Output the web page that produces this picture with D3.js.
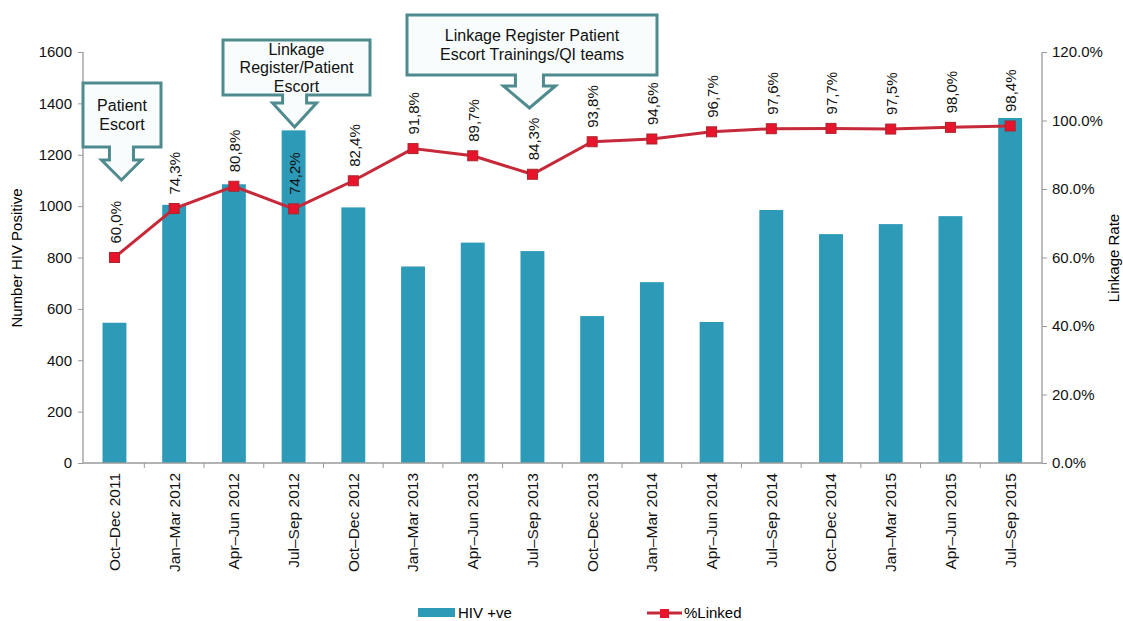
<!DOCTYPE html>
<html>
<head>
<meta charset="utf-8">
<script src="https://cdn.jsdelivr.net/npm/d3@7"></script>
<style>
  html, body { margin: 0; padding: 0; background: #fff; }
  svg { display: block; font-family: "Liberation Sans", Arial, Helvetica, sans-serif; }
</style>
</head>
<body>
<svg id="chart" width="1123" height="621"></svg>
<script>
// Quarterly HIV positives and share linked to care
const quarters = [
  "Oct–Dec 2011", "Jan–Mar 2012", "Apr–Jun 2012", "Jul–Sep 2012",
  "Oct–Dec 2012", "Jan–Mar 2013", "Apr–Jun 2013", "Jul–Sep 2013",
  "Oct–Dec 2013", "Jan–Mar 2014", "Apr–Jun 2014", "Jul–Sep 2014",
  "Oct–Dec 2014", "Jan–Mar 2015", "Apr–Jun 2015", "Jul–Sep 2015"
];
const hivPositive = [546, 1005, 1085, 1295, 995, 765, 858, 825, 572, 704, 549, 985, 891, 930, 961, 1343];
const linkedPct = [60.0, 74.3, 80.8, 74.2, 82.4, 91.8, 89.7, 84.3, 93.8, 94.6, 96.7, 97.6, 97.7, 97.5, 98.0, 98.4];
const leftTicks = [0, 200, 400, 600, 800, 1000, 1200, 1400, 1600];
const rightTicks = [0, 20, 40, 60, 80, 100, 120];

// Intervention callouts: text lines and the quarter the arrow points at
const callouts = [
  { lines: ["Patient", "Escort"], quarter: 0, dx: 7, box: [83, 83, 161, 147], shaft: 12, headW: 20, shaftEnd: 160, tip: 180 },
  { lines: ["Linkage", "Register/Patient", "Escort"], quarter: 3, dx: 1, box: [223, 40, 370, 95], shaft: 12, headW: 22, shaftEnd: 103, tip: 127 },
  { lines: ["Linkage Register Patient", "Escort Trainings/QI teams"], quarter: 7, dx: -3, box: [407, 15, 657, 75], shaft: 14, headW: 26, shaftEnd: 86, tip: 108 }
];

const svg = d3.select("#chart");
const AX = "#9a9a9a";
const BAR = "#2d9ab8";
const LINE = "#c62a3a";
const MARK = "#e8142c";

const x = d3.scaleBand().domain(quarters).range([84.6, 1040]).paddingInner(0.6).paddingOuter(0.3);
const xc = q => x(q) + x.bandwidth() / 2;
const yL = d3.scaleLinear().domain([0, 1600]).range([463, 52]);
const yR = d3.scaleLinear().domain([0, 120]).range([463, 52]);

// Bars
svg.append("g").selectAll("rect").data(quarters).join("rect")
  .attr("x", q => x(q))
  .attr("y", (q, i) => yL(hivPositive[i]))
  .attr("width", x.bandwidth())
  .attr("height", (q, i) => yL(0) - yL(hivPositive[i]))
  .attr("fill", BAR);

// Left axis
const gL = svg.append("g").attr("transform", "translate(83,0)")
  .call(d3.axisLeft(yL).tickValues(leftTicks).tickSize(5).tickPadding(6).tickFormat(d3.format("d")));
gL.select(".domain").attr("stroke", AX).attr("stroke-width", 1.3).attr("d", "M0,52V463");
gL.selectAll(".tick line").attr("stroke", AX);
gL.selectAll(".tick text").attr("fill", "#111").style("font-size", "15px").style("font-family", "inherit");

// Right axis
const gR = svg.append("g").attr("transform", "translate(1042,0)")
  .call(d3.axisRight(yR).tickValues(rightTicks).tickSize(5).tickPadding(5).tickFormat(d => d.toFixed(1) + "%"));
gR.select(".domain").attr("stroke", AX).attr("stroke-width", 1.3).attr("d", "M0,52V463");
gR.selectAll(".tick line").attr("stroke", AX);
gR.selectAll(".tick text").attr("fill", "#111").style("font-size", "15px").style("font-family", "inherit");

// Bottom axis: ticks between quarters, labels rotated
const gB = svg.append("g").attr("transform", "translate(0,463)");
gB.append("line").attr("x1", 83).attr("x2", 1042).attr("stroke", AX).attr("stroke-width", 1.3);
const step = x.step();
gB.selectAll("line.tk").data(quarters.slice(1)).join("line").attr("class", "tk")
  .attr("x1", q => xc(q) - step / 2).attr("x2", q => xc(q) - step / 2)
  .attr("y1", 0).attr("y2", 5).attr("stroke", AX);
gB.selectAll("text").data(quarters).join("text")
  .attr("transform", q => `translate(${xc(q)},10) rotate(-90)`)
  .attr("text-anchor", "end").attr("dy", "0.35em")
  .style("font-size", "15.5px").attr("fill", "#111")
  .text(q => q);

// Axis titles
svg.append("text").attr("transform", "translate(17,258) rotate(-90)")
  .attr("text-anchor", "middle").attr("dy", "0.35em").style("font-size", "15px").text("Number HIV Positive");
svg.append("text").attr("transform", "translate(1114,258) rotate(-90)")
  .attr("text-anchor", "middle").attr("dy", "0.35em").style("font-size", "15px").text("Linkage Rate");

// Linkage line with square markers
const line = d3.line().x((d, i) => xc(quarters[i])).y(d => yR(d));
svg.append("path").datum(linkedPct).attr("d", line)
  .attr("fill", "none").attr("stroke", LINE).attr("stroke-width", 3);
svg.append("g").selectAll("rect").data(linkedPct).join("rect")
  .attr("x", (d, i) => xc(quarters[i]) - 5).attr("y", d => yR(d) - 5)
  .attr("width", 10).attr("height", 10)
  .attr("fill", MARK).attr("stroke", "#a8262e").attr("stroke-width", 1);

// Value labels above markers
svg.append("g").selectAll("text").data(linkedPct).join("text")
  .attr("transform", (d, i) => `translate(${xc(quarters[i]) + 1},${yR(d) - 14}) rotate(-90)`)
  .attr("text-anchor", "start").attr("dy", "0.35em")
  .style("font-size", "15px").attr("fill", "#111")
  .text(d => d.toFixed(1).replace(".", ",") + "%");

// Callouts
const cg = svg.append("g");
callouts.forEach(c => {
  const [x0, y0, x1, y1] = c.box;
  const tx = xc(quarters[c.quarter]) + c.dx;
  const p = d3.path();
  p.moveTo(x0, y0); p.lineTo(x1, y0); p.lineTo(x1, y1);
  p.lineTo(tx + c.shaft, y1); p.lineTo(tx + c.shaft, c.shaftEnd);
  p.lineTo(tx + c.headW, c.shaftEnd); p.lineTo(tx, c.tip);
  p.lineTo(tx - c.headW, c.shaftEnd); p.lineTo(tx - c.shaft, c.shaftEnd);
  p.lineTo(tx - c.shaft, y1); p.lineTo(x0, y1); p.closePath();
  cg.append("path").attr("d", p.toString())
    .attr("fill", "#f8fcfc").attr("stroke", "#4f8b8e").attr("stroke-width", 3).attr("stroke-linejoin", "miter");
  const lh = 18.5;
  const cy = (y0 + y1) / 2;
  c.lines.forEach((t, k) => {
    cg.append("text").attr("x", (x0 + x1) / 2)
      .attr("y", cy + (k - (c.lines.length - 1) / 2) * lh)
      .attr("dy", "0.35em").attr("text-anchor", "middle")
      .style("font-size", "16px").attr("fill", "#111").text(t);
  });
});

// Legend
const lg = svg.append("g");
lg.append("rect").attr("x", 418).attr("y", 608).attr("width", 37).attr("height", 9).attr("fill", BAR);
lg.append("text").attr("x", 458).attr("y", 613).attr("dy", "0.35em").style("font-size", "15px").text("HIV +ve");
lg.append("line").attr("x1", 647).attr("x2", 682).attr("y1", 613).attr("y2", 613).attr("stroke", LINE).attr("stroke-width", 3);
lg.append("rect").attr("x", 660).attr("y", 609).attr("width", 9).attr("height", 9).attr("fill", MARK);
lg.append("text").attr("x", 684).attr("y", 613).attr("dy", "0.35em").style("font-size", "15px").text("%Linked");
</script>
</body>
</html>
